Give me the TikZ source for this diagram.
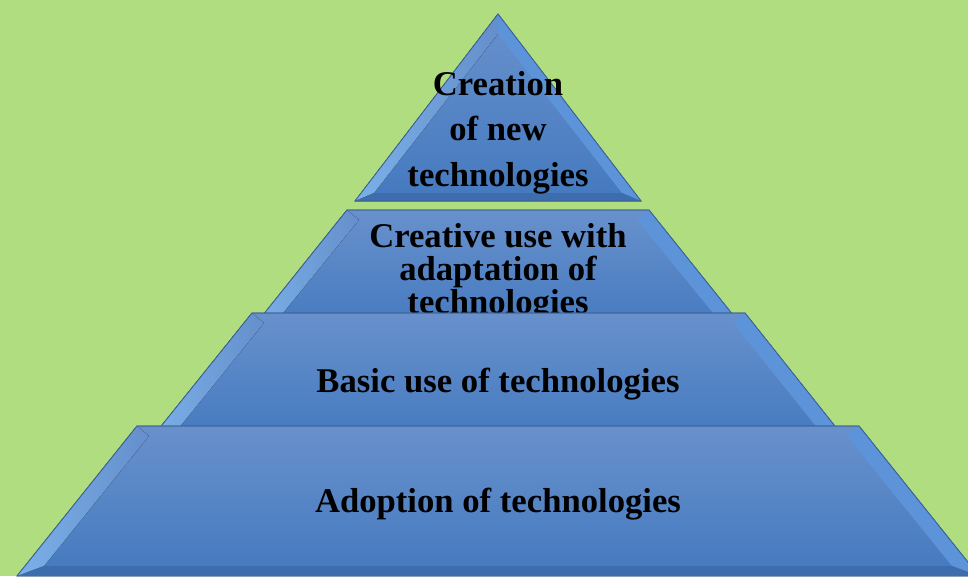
\documentclass[tikz,border=0pt]{standalone}
\usepackage{fontspec}
\setmainfont{Liberation Serif}

\definecolor{bggreen}{HTML}{B1DD81}
\definecolor{edgeblue}{HTML}{3D6196}
\definecolor{topblue}{HTML}{6891CC}
\definecolor{lowblue}{HTML}{4479BF}
\definecolor{glowblue}{HTML}{93C8FA}
\definecolor{sideblue}{HTML}{5C93D9}
\definecolor{footblue}{HTML}{3E6DAD}

\tikzset{
  layer/.style={draw=edgeblue, line width=0.6pt, top color=topblue, bottom color=lowblue},
  bevelL/.style={left color=glowblue!70!lowblue, right color=topblue!90!lowblue},
  bevelR/.style={fill=sideblue},
  bevelB/.style={fill=footblue},
  label/.style={align=center, anchor=base, inner sep=0pt, font=\bfseries}
}

\begin{document}
\begin{tikzpicture}[x=0.75pt,y=-0.75pt]
  \useasboundingbox (0,0) rectangle (968,576);
  \clip (0,0) rectangle (968,576);
  \fill[bggreen] (0,0) rectangle (968,576);

  % top: creation
  \fill[layer] (498,14) -- (641,201) -- (355,201) -- cycle;
  \fill[bevelL] (498,14) -- (355,201) -- (374,193) -- (498,34) -- cycle;
  \fill[bevelR] (498,14) -- (641,201) -- (622,193) -- (498,34) -- cycle;
  \fill[bevelB] (355,201) -- (641,201) -- (622,193) -- (374,193) -- cycle;
  \draw[edgeblue, line width=0.6pt] (498,14) -- (641,201) -- (355,201) -- cycle;
  \node[label, font=\bfseries\fontsize{26}{34}\selectfont] (creation) at (498,186)
    {Creation\\of new\\technologies};

  % second: creative use
  \fill[layer] (347,210) -- (649,210) -- (745,330) -- (251,330) -- cycle;
  \fill[bevelL] (347,210) -- (251,330) -- (269,330) -- (359,220) -- cycle;
  \fill[bevelR] (649,210) -- (745,330) -- (727,330) -- (637,220) -- cycle;
  \draw[edgeblue, line width=0.6pt] (251,330) -- (347,210) -- (649,210) -- (745,330);
  \node[label, font=\bfseries\fontsize{26}{24.75}\selectfont] (creative) at (498,313)
    {Creative use with\\adaptation of\\technologies};

  % third: basic use
  \fill[layer] (252,313) -- (745,313) -- (846,440) -- (150,440) -- cycle;
  \fill[bevelL] (252,313) -- (150,440) -- (169,440) -- (264,323) -- cycle;
  \fill[bevelR] (745,313) -- (846,440) -- (827,440) -- (733,323) -- cycle;
  \draw[edgeblue, line width=0.6pt] (150,440) -- (252,313) -- (745,313) -- (846,440);
  \node[label, font=\bfseries\fontsize{26}{30}\selectfont] (basic) at (498,392)
    {Basic use of technologies};

  % bottom: adoption
  \fill[layer] (137,426) -- (859,426) -- (979,576) -- (17,576) -- cycle;
  \fill[bevelL] (137,426) -- (17,576) -- (44,566) -- (149,436) -- cycle;
  \fill[bevelR] (859,426) -- (979,576) -- (952,566) -- (847,436) -- cycle;
  \fill[bevelB] (17,576) -- (979,576) -- (952,566) -- (44,566) -- cycle;
  \draw[edgeblue, line width=0.6pt] (17,576) -- (137,426) -- (859,426) -- (979,576);
  \node[label, font=\bfseries\fontsize{26}{30}\selectfont] (adoption) at (498,512)
    {Adoption of technologies};
\end{tikzpicture}
\end{document}
